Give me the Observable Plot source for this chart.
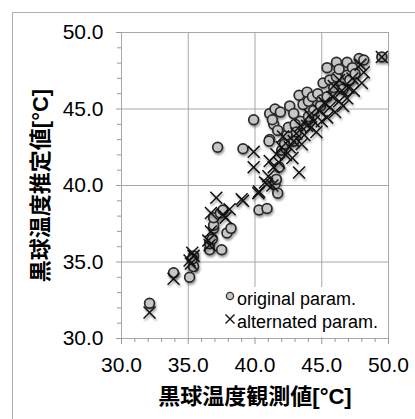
<!DOCTYPE html>
<html>
<head>
<meta charset="utf-8">
<script src="https://cdn.jsdelivr.net/npm/d3@7"></script>
<script src="https://cdn.jsdelivr.net/npm/@observablehq/plot@0.6"></script>
<style>
  html, body { margin: 0; padding: 0; background: #fff; overflow: hidden; }
  #wrap { position: relative; width: 415px; height: 419px; overflow: hidden; }
  #chart { position: absolute; left: 0; top: 0; }
  #edgeL { position: absolute; left: 12px; top: 12px; width: 1px; height: 407px; background: #b0b0b0; z-index: 5; }
  #edgeT { position: absolute; left: 12px; top: 12px; width: 403px; height: 1px; background: #b0b0b0; z-index: 5; }
  .chart g[aria-label="dot"] { filter: drop-shadow(1.5px 2px 1.2px rgba(0,0,0,0.4)); }
  #legend { position: absolute; left: 223px; top: 287px; width: 164px; height: 50px; background: #fff;
            font-family: "Liberation Sans", Arial, sans-serif; font-size: 18px; color: #000; }
  #legend .row { position: absolute; left: 0; height: 22px; line-height: 22px; white-space: nowrap; }
  #legend svg { position: absolute; left: 0; top: 0; overflow: visible; }
  #legend span { position: absolute; left: 14px; }
</style>
</head>
<body>
<div id="wrap">
  <div id="chart"></div>
  <div id="edgeL"></div>
  <div id="edgeT"></div>
  <div id="legend">
    <div class="row" style="top:1px">
      <svg width="12" height="22"><circle cx="7" cy="8" r="3.6" fill="#c6c6c6" stroke="#333" stroke-width="1.3"></circle></svg>
      <span>original param.</span>
    </div>
    <div class="row" style="top:24px">
      <svg width="12" height="22"><path d="M2.5,3.5L11.5,12.5M11.5,3.5L2.5,12.5" stroke="#111" stroke-width="1.4" fill="none"></path></svg>
      <span>alternated param.</span>
    </div>
  </div>
</div>
<script>
const xLabel = "黒球温度観測値[°C]";
const yLabel = "黒球温度推定値[°C]";
const seriesNames = ["original param.", "alternated param."];
const majorTicks = [30, 35, 40, 45, 50];
const minorTicks = [31,32,33,34,36,37,38,39,41,42,43,44,46,47,48,49];

// original param. (observed, estimated)
const origObs = [32.1,33.9,35.1,35.4,35.4,35.3,36.6,37.5,36.6,36.8,36.9,36.9,36.9,37.4,37.6,37.9,38.2,40.3,40.9,41.7,41.5,41.6,37.2,39.1,39.9,41.1,41.4,41.1,41.5,41.9,41.3,41.7,42.0,42.4,42.5,42.6,42.9,42.9,43.3,43.4,43.0,43.6,43.9,44.0,44.3,44.4,44.7,45.0,45.1,45.4,45.4,45.6,45.9,46.1,46.1,46.3,46.6,46.9,46.9,47.1,47.3,47.8,48.15,47.5,49.5,44.9,44.0,43.1,42.2,41.8,41.05];
const origEst = [32.3,34.3,34.0,34.7,35.4,35.2,35.8,35.8,36.2,36.5,37.2,37.4,37.9,38.2,38.4,36.9,37.2,38.4,38.5,39.5,40.1,40.4,42.5,42.4,44.3,43.0,44.0,44.7,45.0,44.8,44.3,43.6,42.3,43.3,43.8,45.2,44.7,42.9,45.9,44.2,44.0,45.3,46.1,45.5,45.8,44.9,46.0,45.6,46.7,47.7,45.8,46.9,46.4,48.05,47.1,47.6,46.3,48.05,47.2,46.9,47.7,48.3,48.2,47.3,48.4,45.2,44.5,43.5,42.7,41.2,42.9];

// alternated param. (observed, estimated)
const altObs = [32.1,33.9,35.1,35.4,35.3,35.2,36.5,36.6,36.7,36.7,37.1,37.6,38.1,37.8,39.1,39.0,40.3,40.25,40.9,40.75,39.9,39.9,41.1,41.4,41.6,41.0,41.3,41.8,42.1,42.3,42.6,42.9,42.8,43.3,43.1,43.5,43.9,43.7,44.1,44.6,44.4,44.8,45.0,45.4,45.2,45.6,45.8,46.0,46.3,46.6,46.5,46.9,47.0,47.4,47.3,48.0,48.15,47.9,49.5,44.2,43.4,42.0,45.9,46.3];
const altEst = [31.7,33.9,35.1,35.4,35.6,34.9,36.4,36.1,37.0,38.2,39.2,38.1,38.45,37.9,39.0,39.1,39.6,39.5,40.1,40.2,41.2,42.2,41.6,41.2,42.05,40.6,40.0,41.5,43.2,42.0,42.5,42.9,41.8,40.85,43.4,42.7,43.9,43.3,44.6,43.5,44.2,44.9,44.2,44.45,45.4,45.1,45.8,44.8,45.5,45.2,46.2,45.7,46.4,46.2,47.0,46.7,47.4,47.9,48.4,43.8,43.9,42.5,46.5,46.9];

const orig = origObs.map((x, i) => ({x, y: origEst[i]}));
const alt = altObs.map((x, i) => ({x, y: altEst[i]}));

const axisFont = "Liberation Sans, Arial, sans-serif";
const titleFont = "'Liberation Sans', 'Noto Sans CJK JP', sans-serif";

const chart = Plot.plot({
  width: 415,
  height: 419,
  marginLeft: 121,
  marginRight: 27,
  marginTop: 32,
  marginBottom: 81,
  className: "chart",
  style: {fontFamily: axisFont, fontSize: "21px", color: "#000", background: "transparent", overflow: "visible"},
  x: {domain: [30, 50]},
  y: {domain: [30, 50]},
  marks: [
    Plot.gridX(majorTicks, {stroke: "#a8a8a8", strokeOpacity: 1, strokeWidth: 1}),
    Plot.gridY(majorTicks, {stroke: "#a8a8a8", strokeOpacity: 1, strokeWidth: 1}),
    Plot.frame({stroke: "#a8a8a8"}),
    Plot.axisX(minorTicks, {tickSize: 4, tickFormat: () => "", label: null, stroke: "#999"}),
    Plot.axisY(minorTicks, {tickSize: 4, tickFormat: () => "", label: null, stroke: "#999"}),
    Plot.axisX(majorTicks, {tickSize: 6, tickPadding: 13, tickFormat: d => d.toFixed(1), label: null, stroke: "#999", fontSize: 21, fill: "#000"}),
    Plot.axisY(majorTicks, {tickSize: 5, tickPadding: 13, tickFormat: d => d.toFixed(1), label: null, stroke: "#999", fontSize: 21, fill: "#000"}),
    Plot.dot(orig, {x: "x", y: "y", r: 4.9, fill: "#c6c6c6", stroke: "#2a2a2a", strokeWidth: 1.7}),
    Plot.dot(alt, {x: "x", y: "y", r: 5.5, symbol: "times", stroke: "#111", strokeWidth: 1.5}),
    Plot.text([xLabel], {text: d => d, frameAnchor: "bottom", dy: 58, lineAnchor: "middle", textAnchor: "middle", fontSize: 22, fontWeight: "bold", fontFamily: titleFont, fill: "#000"}),
    Plot.text([yLabel], {text: d => d, frameAnchor: "left", dx: -81, rotate: -90, lineAnchor: "middle", textAnchor: "middle", fontSize: 22, fontWeight: "bold", fontFamily: titleFont, fill: "#000"})
  ]
});
document.getElementById("chart").appendChild(chart);
</script>
</body>
</html>
